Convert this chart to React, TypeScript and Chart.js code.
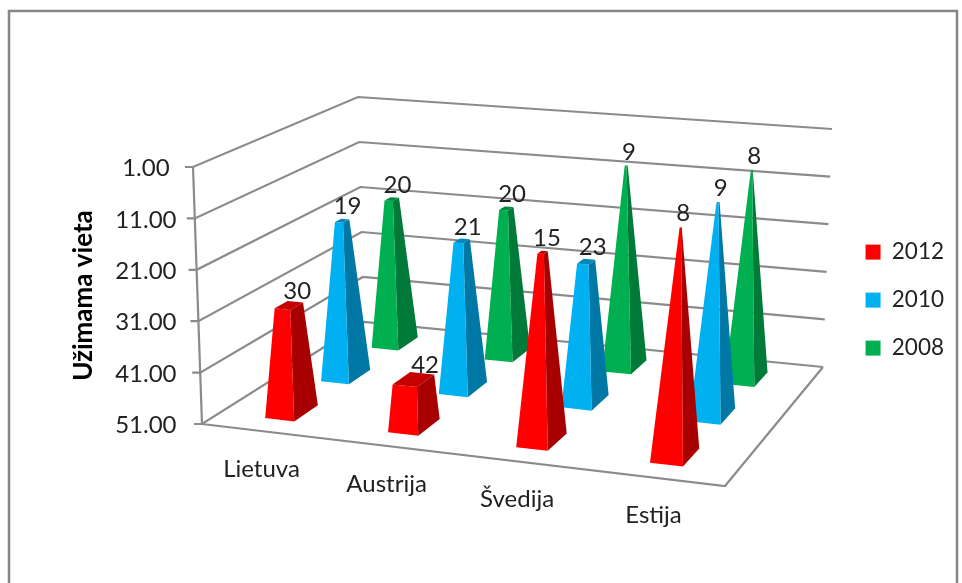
import React, { useEffect, useRef } from "react";
import { Chart, registerables } from "chart.js";

Chart.register(...registerables);

// ---- data ----
const categories = ["Lietuva", "Austrija", "Švedija", "Estija"];
const series2012 = [30, 42, 15, 8];
const series2010 = [19, 21, 23, 9];
const series2008 = [20, 20, 9, 8];
const seriesNames = ["2012", "2010", "2008"];
const axisTitle = "Užimama vieta";

// ---- styles ----
const frontColors = ["#FF0000", "#00B0F0", "#00B050"];
const sideColors = ["#A80000", "#0078A6", "#007A38"];
const capColors = ["#C40000", "#0088BC", "#008A40"];
const FONT = "Lato, Carlito, sans-serif";
const LINE = "#8b8b8b";
const TEXT = "#222222";

// 3D box of the plot, in canvas pixels: used to project scale values
const floorBox = { fl: [202, 424], fr: [725, 486], br: [823, 367], bl: [364, 322] };
const ceilBox = { fl: [193, 167], fr: [735, 212], br: [832, 129], bl: [358, 97] };
const HALF_U = 0.03;
const HALF_D = 0.07;
const APEX_VALUE = 6;

type P = [number, number];
const homography = (b: any) => {
  const [x0, y0] = b.fl, [x1, y1] = b.fr, [x2, y2] = b.br, [x3, y3] = b.bl;
  const dx1 = x1 - x2, dx2 = x3 - x2, dx3 = x0 - x1 + x2 - x3;
  const dy1 = y1 - y2, dy2 = y3 - y2, dy3 = y0 - y1 + y2 - y3;
  const den = dx1 * dy2 - dx2 * dy1;
  const g = (dx3 * dy2 - dx2 * dy3) / den;
  const h = (dx1 * dy3 - dx3 * dy1) / den;
  const a = x1 - x0 + g * x1, bb = x3 - x0 + h * x3, c = x0;
  const d = y1 - y0 + g * y1, e = y3 - y0 + h * y3, f = y0;
  return (u: number, v: number): P => {
    const w = g * u + h * v + 1;
    return [(a * u + bb * v + c) / w, (d * u + e * v + f) / w];
  };
};
const floorMap = homography(floorBox);
const ceilMap = homography(ceilBox);
const project = (u: number, d: number, h: number): P => {
  const a = floorMap(u, d);
  const b = ceilMap(u, d);
  return [a[0] + (b[0] - a[0]) * h, a[1] + (b[1] - a[1]) * h];
};

const poly = (ctx: CanvasRenderingContext2D, pts: P[], fill: string) => {
  ctx.beginPath();
  pts.forEach((p, i) => (i ? ctx.lineTo(p[0], p[1]) : ctx.moveTo(p[0], p[1])));
  ctx.closePath();
  ctx.fillStyle = fill;
  ctx.fill();
};
const seg = (ctx: CanvasRenderingContext2D, pts: P[]) => {
  ctx.beginPath();
  pts.forEach((p, i) => (i ? ctx.lineTo(p[0], p[1]) : ctx.moveTo(p[0], p[1])));
  ctx.stroke();
};

const pyramid3d = {
  id: "pyramid3d",
  beforeDraw(chart: any) {
    const { ctx, scales } = chart;
    const ys = scales.y;
    ctx.save();
    ctx.strokeStyle = "#868686";
    ctx.lineWidth = 2.5;
    seg(ctx, [[9, 583], [9, 11], [957, 11], [957, 583]]);
    ctx.strokeStyle = LINE;
    ctx.lineWidth = 2.2;
    const span = ys.bottom - ys.top;
    ys.ticks.forEach((t: any) => {
      const h = (ys.bottom - ys.getPixelForValue(t.value)) / span;
      const a = project(0, 0, h);
      seg(ctx, [[a[0] - 8, a[1]], a, project(0, 1, h), project(1, 1, h)]);
    });
    seg(ctx, [project(0, 0, 0), project(0, 0, 1)]);
    seg(ctx, [project(0, 0, 0), project(1, 0, 0), project(1, 1, 0)]);
    ctx.restore();
  },
  beforeDatasetsDraw() {
    return false;
  },
  afterDraw(chart: any) {
    const { ctx, scales } = chart;
    const xs = scales.x;
    const ys = scales.y;
    const span = ys.bottom - ys.top;
    const nSeries = chart.data.datasets.length;
    const taper = (v: number) => Math.max(0, (v - APEX_VALUE) / (ys.max - APEX_VALUE));
    ctx.save();
    for (let s = nSeries - 1; s >= 0; s--) {
      const values = chart.data.datasets[s].data as number[];
      const d = (s + 0.5) / nSeries;
      values.forEach((v, i) => {
        const u = (xs.getPixelForValue(i) - xs.left) / (xs.right - xs.left);
        const h = (ys.bottom - ys.getPixelForValue(v)) / span;
        const k = taper(v);
        const du = HALF_U;
        const dd = HALF_D;
        const fl = project(u - du, d - dd, 0);
        const fr = project(u + du, d - dd, 0);
        const br = project(u + du, d + dd, 0);
        const tfl = project(u - du * k, d - dd * k, h);
        const tfr = project(u + du * k, d - dd * k, h);
        const tbr = project(u + du * k, d + dd * k, h);
        const tbl = project(u - du * k, d + dd * k, h);
        poly(ctx, [fr, br, tbr, tfr], sideColors[s]);
        poly(ctx, [fl, fr, tfr, tfl], frontColors[s]);
        poly(ctx, [tfl, tfr, tbr, tbl], capColors[s]);
      });
    }
    ctx.font = `24px ${FONT}`;
    ctx.fillStyle = TEXT;
    ctx.textAlign = "center";
    ctx.textBaseline = "middle";
    for (let s = nSeries - 1; s >= 0; s--) {
      const values = chart.data.datasets[s].data as number[];
      const d = (s + 0.5) / nSeries;
      values.forEach((v, i) => {
        const u = (xs.getPixelForValue(i) - xs.left) / (xs.right - xs.left);
        const h = (ys.bottom - ys.getPixelForValue(v)) / span;
        const p = project(u, d, h);
        ctx.fillText(String(v), p[0] + 2 + 12 * taper(v), p[1] - 14);
      });
    }
    categories.forEach((c, i) => {
      const u = (xs.getPixelForValue(i) - xs.left) / (xs.right - xs.left);
      const p = project(u, 0, 0);
      ctx.fillText(c, p[0] - 1, p[1] + 38);
    });
    ctx.restore();
  },
};

export default function App() {
  const ref = useRef<HTMLCanvasElement>(null);
  useEffect(() => {
    const chart = new Chart(ref.current!, {
      type: "bar",
      data: {
        labels: categories,
        datasets: [series2012, series2010, series2008].map((data, i) => ({
          label: seriesNames[i],
          data,
          backgroundColor: frontColors[i],
        })),
      },
      options: {
        responsive: false,
        animation: false,
        devicePixelRatio: 1,
        layout: { padding: { left: 68, right: 8, top: 167, bottom: 159 } },
        scales: {
          x: { display: false },
          y: {
            reverse: true,
            min: 1,
            max: 51,
            grid: { display: false },
            border: { display: false },
            ticks: {
              stepSize: 10,
              crossAlign: "center",
              padding: 6,
              labelOffset: 1.5,
              color: TEXT,
              font: { family: FONT, size: 24 },
              callback: (v: any) => Number(v).toFixed(2),
            },
            title: {
              display: true,
              text: axisTitle,
              color: "#000000",
              font: { family: FONT, size: 26, weight: "bold" },
              padding: { top: 0, bottom: 10 },
            },
          },
        },
        plugins: {
          title: { display: false },
          tooltip: { enabled: false },
          legend: {
            position: "right",
            title: {
              display: true,
              text: " ",
              font: { family: FONT, size: 1 },
              padding: { top: 8, bottom: 0 },
            },
            labels: {
              boxWidth: 15,
              boxHeight: 15,
              padding: 25.5,
              color: TEXT,
              font: { family: FONT, size: 22.5 },
            },
          },
        },
      } as any,
      plugins: [pyramid3d],
    });
    return () => chart.destroy();
  }, []);
  return (
    <div style={{ position: "fixed", left: 0, top: 0, background: "#fff" }}>
      <canvas ref={ref} width={962} height={583} style={{ display: "block" }} />
    </div>
  );
}
